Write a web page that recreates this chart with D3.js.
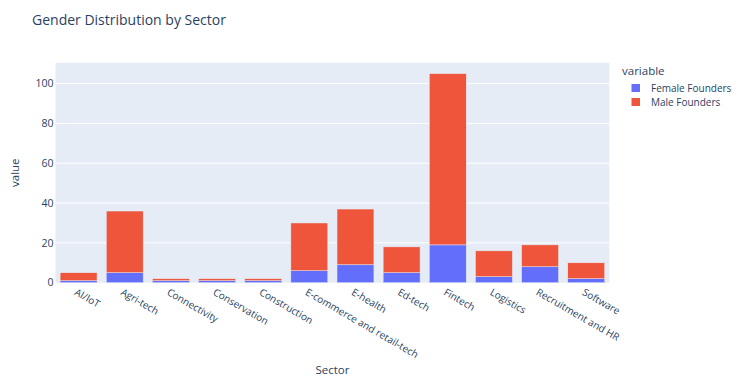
<!DOCTYPE html>
<html><head><meta charset="utf-8">
<script src="https://cdn.jsdelivr.net/npm/d3@7"></script>
<style>body{margin:0;background:#fff;} text{font-family:"Open Sans",Verdana,Arial,sans-serif;}</style>
</head><body>
<svg id="c" width="750" height="378"></svg>
<script>
const categories = ["AI/IoT","Agri-tech","Connectivity","Conservation","Construction","E-commerce and retail-tech","E-health","Ed-tech","Fintech","Logistics","Recruitment and HR","Software"];
const femaleFounders = [1,5,1,1,1,6,9,5,19,3,8,2];
const maleFounders = [4,31,1,1,1,24,28,13,86,13,11,8];
const seriesNames = ["Female Founders","Male Founders"];
const yTicks = [0,20,40,60,80,100];
const colors = ["#636efa","#EF553B"];

const svg = d3.select("#c");
const m = {l:55.5, t:62.7, w:553.8, h:220};
const x = d3.scaleBand().domain(categories).range([m.l, m.l+m.w]).paddingInner(0.2).paddingOuter(0.1);
const y = d3.scaleLinear().domain([0,110.5]).range([m.t+m.h, m.t]);
const txt = "#2a3f5f";

svg.append("rect").attr("x",m.l).attr("y",m.t).attr("width",m.w).attr("height",m.h).attr("fill","#E5ECF6");
svg.append("g").selectAll("line").data(yTicks.filter(d=>d>0)).join("line")
  .attr("x1",m.l).attr("x2",m.l+m.w).attr("y1",d=>y(d)).attr("y2",d=>y(d))
  .attr("stroke","#fff").attr("stroke-width",1);

const data = categories.map((c,i)=>({cat:c, f:femaleFounders[i], m:maleFounders[i]}));
const stack = d3.stack().keys(["f","m"])(data);
svg.append("g").selectAll("g").data(stack).join("g").attr("fill",(d,i)=>colors[i])
  .selectAll("rect").data(d=>d).join("rect")
  .attr("x",d=>x(d.data.cat)).attr("width",x.bandwidth())
  .attr("y",d=>y(d[1])).attr("height",d=>y(d[0])-y(d[1]))
  .attr("stroke","#E5ECF6").attr("stroke-width",0.5);

svg.append("g").selectAll("text").data(yTicks).join("text")
  .attr("x",m.l-2).attr("y",d=>y(d)).attr("dy","0.35em").attr("text-anchor","end")
  .attr("font-size",10.5).attr("fill",txt).text(d=>d);

svg.append("g").selectAll("text").data(categories).join("text")
  .attr("transform",d=>`translate(${x(d)+x.bandwidth()/2-1},${m.t+m.h+5}) rotate(30)`)
  .attr("dy","0.75em").attr("text-anchor","start")
  .attr("font-size",10).attr("fill",txt).text(d=>d);

svg.append("text").attr("x",32).attr("y",25).attr("font-size",14).attr("fill",txt).text("Gender Distribution by Sector");
svg.append("text").attr("transform",`translate(19,${m.t+m.h/2}) rotate(-90)`).attr("text-anchor","middle")
  .attr("font-size",11.5).attr("fill",txt).text("value");
svg.append("text").attr("x",m.l+m.w/2).attr("y",374).attr("text-anchor","middle")
  .attr("font-size",11.5).attr("fill",txt).text("Sector");

const lg = svg.append("g");
lg.append("text").attr("x",622).attr("y",75).attr("font-size",11.5).attr("fill",txt).text("variable");
seriesNames.forEach((s,i)=>{
  const yy = 88 + i*14;
  lg.append("rect").attr("x",631.5).attr("y",yy-4).attr("width",8.5).attr("height",8).attr("fill",colors[i]);
  lg.append("text").attr("x",651).attr("y",yy).attr("dy","0.35em").attr("font-size",10).attr("fill",txt).text(s);
});
</script>
</body></html>
